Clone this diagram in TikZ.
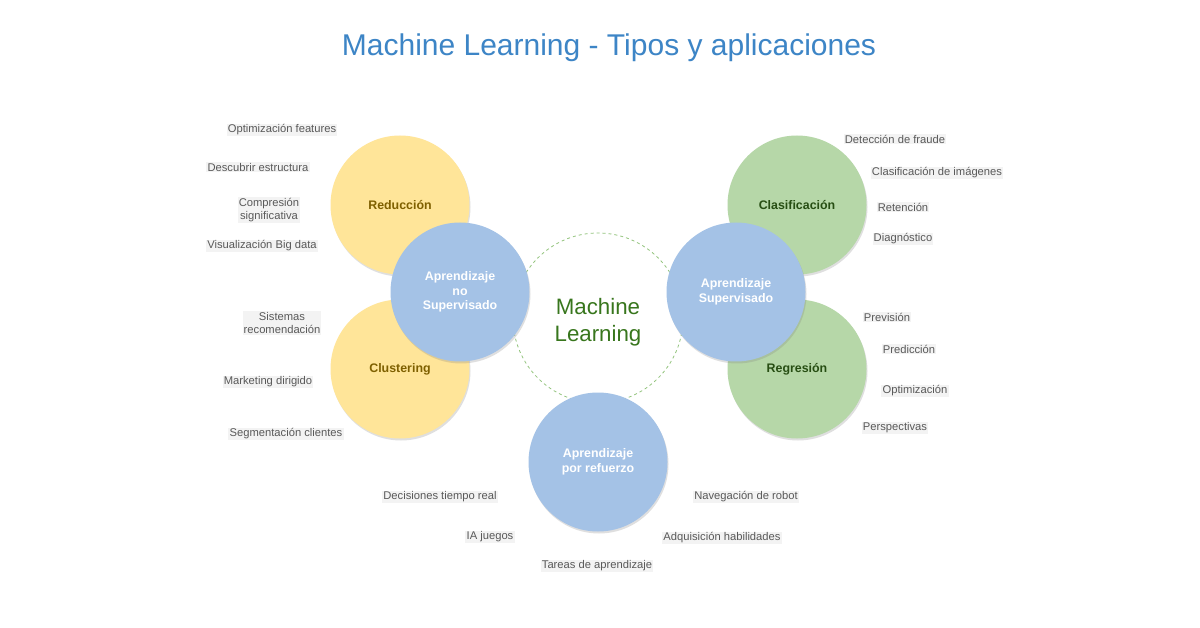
\documentclass[tikz,border=0pt]{standalone}
\usepackage{fontspec}
\setmainfont{Liberation Sans}
\usetikzlibrary{shadows}
\definecolor{titleblue}{HTML}{3D85C6}
\definecolor{yel}{HTML}{FFE599}
\definecolor{grn}{HTML}{B6D7A8}
\definecolor{blu}{HTML}{A4C2E6}
\definecolor{yeltext}{HTML}{7F6000}
\definecolor{grntext}{HTML}{274E13}
\definecolor{mltext}{HTML}{38761D}
\definecolor{dashgrn}{HTML}{93C47D}
\definecolor{lbltext}{HTML}{595959}
\definecolor{lblbg}{HTML}{F3F3F3}
\tikzset{
  bubble/.style={circle, minimum size=139pt, inner sep=0pt, align=center,
    font=\fontsize{12.4}{14.5}\selectfont\bfseries,
    drop shadow={shadow xshift=1pt, shadow yshift=-2pt, opacity=0.25}},
  ybub/.style={bubble, fill=yel, text=yeltext},
  gbub/.style={bubble, fill=grn, text=grntext},
  bbub/.style={bubble, fill=blu, text=white},
  lbl/.style={fill=lblbg, text=lbltext, inner sep=1.2pt, align=center,
    font=\fontsize{11.2}{13.5}\selectfont},
}
\begin{document}
\begin{tikzpicture}[x=1pt,y=-1pt]
\useasboundingbox[fill=white] (0,0) rectangle (1200,628);
\node[text=titleblue, font=\fontsize{30}{34}\selectfont] (title) at (609,48) {Machine Learning - Tipos y aplicaciones};
% central dashed circle
\node[circle, draw=dashgrn, dashed, line width=0.8pt, minimum size=170pt, inner sep=0pt] (ml) at (598,318) {};
\node[text=mltext, align=center, font=\fontsize{22.3}{27.5}\selectfont] (mltxt) at (598,322) {Machine\\Learning};
% yellow
\node[ybub] (red) at (400,205) {Reducción};
\node[ybub] (clu) at (400,369) {Clustering};
% green
\node[gbub] (cla) at (797,205) {Clasificación};
\node[gbub] (reg) at (797,369) {Regresión};
% blue
\node[bbub] (nosup) at (460,292) {Aprendizaje\\no\\Supervisado};
\node[bbub] (sup) at (736,292) {Aprendizaje\\Supervisado};
\node[bbub] (ref) at (598,462) {Aprendizaje\\por refuerzo};
% left labels
\node[lbl] (l1) at (282,130) {Optimización features};
\node[lbl] (l2) at (258,167) {Descubrir estructura};
\node[lbl] (l3) at (269,210) {Compresión\\significativa};
\node[lbl] (l4) at (262,246) {Visualización Big data};
\node[lbl] (l5) at (282,323) {Sistemas\\recomendación};
\node[lbl] (l6) at (268,382) {Marketing dirigido};
\node[lbl] (l7) at (286,434) {Segmentación clientes};
% right labels
\node[lbl] (r1) at (895,139) {Detección de fraude};
\node[lbl] (r2) at (937,173) {Clasificación de imágenes};
\node[lbl] (r3) at (903,207) {Retención};
\node[lbl] (r4) at (903,239) {Diagnóstico};
\node[lbl] (r5) at (887,317) {Previsión};
\node[lbl] (r6) at (909,349) {Predicción};
\node[lbl] (r7) at (915,391) {Optimización};
\node[lbl] (r8) at (895,428) {Perspectivas};
% bottom labels
\node[lbl] (b1) at (440,497) {Decisiones tiempo real};
\node[lbl] (b2) at (490,537) {IA juegos};
\node[lbl] (b3) at (597,566) {Tareas de aprendizaje};
\node[lbl] (b4) at (746,497) {Navegación de robot};
\node[lbl] (b5) at (722,538) {Adquisición habilidades};
\end{tikzpicture}
\end{document}
